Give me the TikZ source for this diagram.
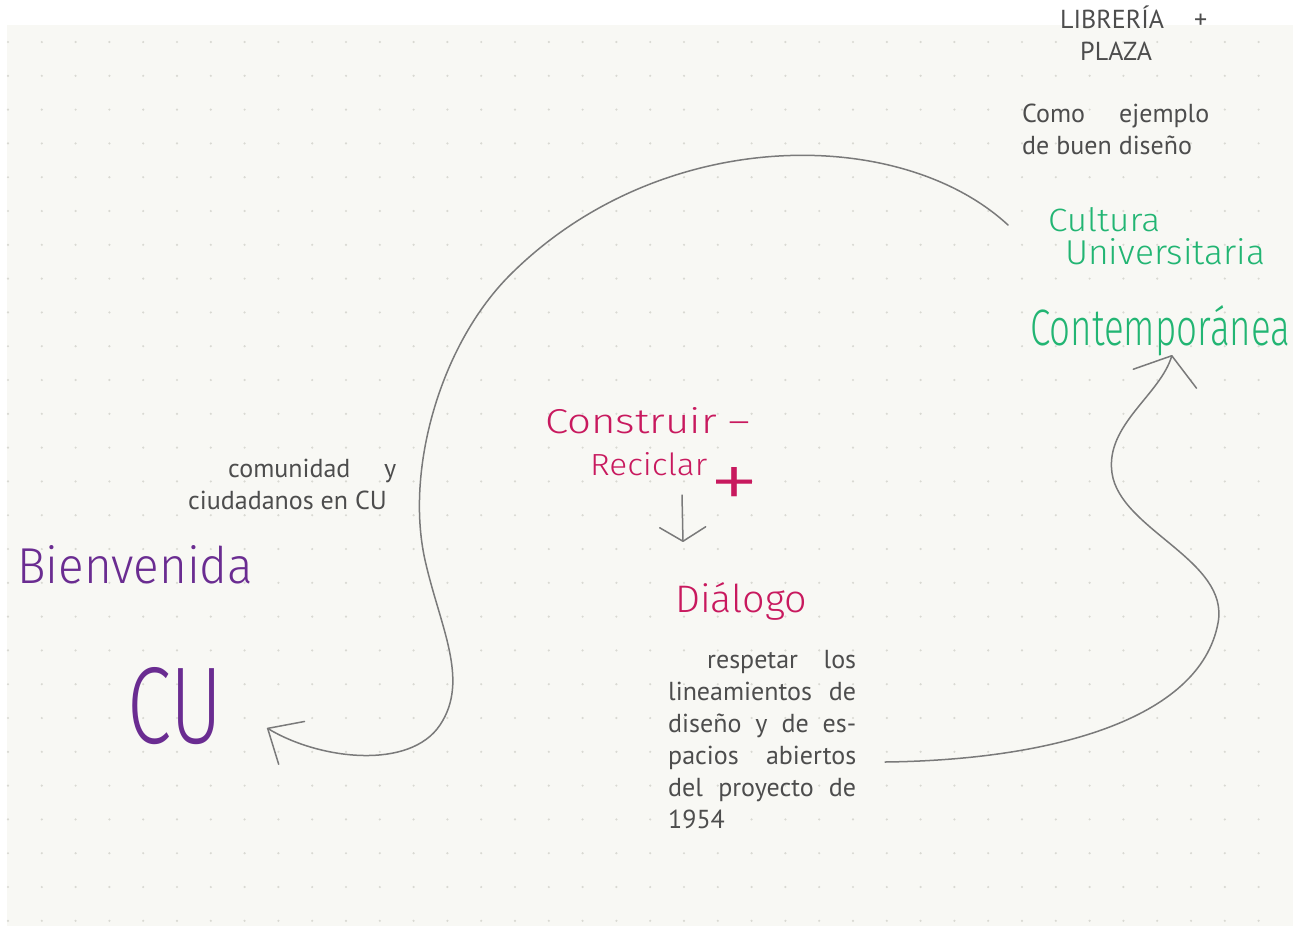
\documentclass[tikz,border=0pt]{standalone}
\usepackage{fontspec}
\usepackage{graphicx}
\setmainfont{PT Sans}
\newfontfamily\hand{Fira Sans Light}
\usetikzlibrary{arrows.meta}

\definecolor{papel}{HTML}{F8F8F4}
\definecolor{punto}{HTML}{D9D9D2}
\definecolor{tinta}{HTML}{4D4D4D}
\definecolor{verde}{HTML}{22B573}
\definecolor{rosa}{HTML}{C8195E}
\definecolor{morado}{HTML}{6A2C91}
\definecolor{grafito}{HTML}{7A7A7A}

% handwritten word, stretched to a given width and height
\newcommand{\hw}[3]{\resizebox{#1}{#2}{\hand #3}}

\begin{document}
\begin{tikzpicture}[
    x=1pt, y=-1pt,
    nota/.style={
        anchor=base west,
        inner sep=0pt,
        text=tinta,
        align=justify,
        font=\fontsize{26}{32}\selectfont
    },
    mano/.style={anchor=base west, inner sep=0pt},
    trazo/.style={draw=grafito, line width=1.5pt, line cap=round},
    punta/.style 2 args={-{Straight Barb[length=#1,width=#2,round]}}
]
    % page with dot grid
    \useasboundingbox[fill=white] (0,0) rectangle (1300,932);
    \fill[papel] (7,25) rectangle (1293,926);
    \foreach \i in {0,...,37}
        \foreach \j in {0,...,26}
            \fill[punto] (8+33.8*\i, 42+33.8*\j) circle (1.2pt);

    % typed notes
    \node[nota, text width=147pt] (libreria) at (1060,28)
        {LIBRERÍA +\linebreak\hspace*{20pt}PLAZA};
    \node[nota, text width=187pt] (ejemplo) at (1022,122)
        {Como ejemplo\linebreak de buen diseño};
    \node[nota, text width=208pt] (comunidad) at (188,477)
        {\hspace*{40pt}comunidad y\linebreak ciudadanos en CU};
    \node[nota, text width=188pt] (respetar) at (668,668)
        {\hspace*{39pt}respetar los\linebreak lineamientos de\linebreak
         diseño y de es-\linebreak pacios abiertos\linebreak
         del proyecto de\linebreak 1954};

    % handwritten words
    \node[mano, text=verde] (cultura) at (1048,231) {\hw{112pt}{24pt}{Cultura}};
    \node[mano, text=verde] (universitaria) at (1065,264) {\hw{200pt}{26pt}{Universitaria}};
    \node[mano, text=verde] (contemporanea) at (1030,345) {\hw{260pt}{40pt}{Contemporánea}};
    \node[mano, text=rosa] (construir) at (545,433) {\hw{205pt}{26pt}{Construir –}};
    \node[mano, text=rosa] (reciclar) at (590,475)
        {\hw{117pt}{23pt}{Reciclar}\hspace{2pt}\raisebox{-34pt}{\hw{50pt}{42pt}{+}}};
    \node[mano, text=rosa] (dialogo) at (675,612) {\hw{132pt}{30pt}{Diálogo}};
    \node[mano, text=morado] (bienvenida) at (17,583) {\hw{236pt}{38pt}{Bienvenida}};
    \node[mano, text=morado] (cu) at (127,743) {\hw{95pt}{76pt}{CU}};

    % pencil arrows
    \draw[trazo, punta={14pt}{46pt}]
        ([shift={(92,20)}]reciclar.base west) -- ([shift={(8,-70)}]dialogo.base west);
    \draw[trazo, punta={28pt}{50pt}]
        ([shift={(-40,-6)}]cultura.base west)
        .. controls (900,125) and (660,125) .. (510,275)
        .. controls (440,345) and (405,470) .. (425,560)
        .. controls (440,627) and (470,680) .. (440,725)
        .. controls (410,770) and (320,760) .. ([shift={(140,-15)}]cu.base west);
    \draw[trazo, punta={24pt}{66pt}]
        ([shift={(217,94)}]respetar.base west)
        .. controls (1050,760) and (1200,720) .. (1218,623)
        .. controls (1230,560) and (1120,530) .. (1112,473)
        .. controls (1105,425) and (1160,395) .. ([shift={(142,10)}]contemporanea.base west);
\end{tikzpicture}
\end{document}
